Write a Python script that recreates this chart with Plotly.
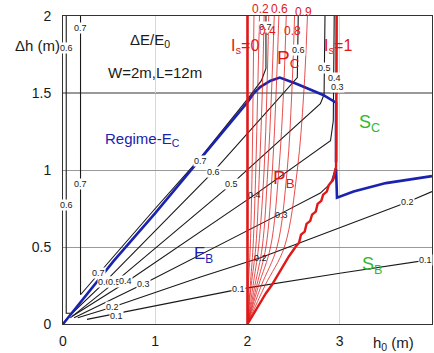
import plotly.graph_objects as go

FONT = "Arial, Liberation Sans, sans-serif"

# ---- Energy-loss contour lines  dE/E0 (black) ----
e01_x = [0.26, 0.58, 1.49, 1.9, 3.0, 3.93, 4.0]
e01_y = [0.03, 0.068, 0.177, 0.225, 0.33, 0.415, 0.42]
e02_x = [0.16, 0.54, 1.49, 2.14, 3.73, 4.0]
e02_y = [0.04, 0.11, 0.305, 0.43, 0.79, 0.86]
e03_x = [0.12, 0.87, 2.37, 2.79, 2.93, 2.965, 2.97]
e03_y = [0.04, 0.26, 0.72, 0.85, 0.93, 1.05, 2.0]
e04_x = [0.10, 0.68, 2.08, 2.90, 2.93, 2.94]
e04_y = [0.05, 0.27, 0.84, 1.19, 1.32, 2.0]
e05_x = [0.08, 0.56, 1.83, 2.79, 2.83, 2.84]
e05_y = [0.04, 0.27, 0.91, 1.43, 1.49, 2.0]
e06_x = [0.035, 0.035, 0.10, 0.45, 1.63, 2.25, 2.54, 2.55]
e06_y = [2.0, 0.07, 0.07, 0.27, 0.99, 1.41, 1.60, 2.0]
e07_x = [0.19, 0.19, 0.55, 1.0, 1.49, 2.0, 2.15, 2.2, 2.2]
e07_y = [2.0, 0.19, 0.44, 0.75, 1.08, 1.46, 1.58, 1.66, 2.0]

# ---- Regime boundary (blue) ----
ec_x = [0.0, 0.55, 1.0, 1.5, 2.0, 2.07, 2.14, 2.25, 2.35, 2.53, 2.82, 2.96, 2.96]
ec_y = [0.0, 0.41, 0.72, 1.08, 1.44, 1.50, 1.54, 1.58, 1.60, 1.56, 1.487, 1.437, 1.05]
sc_x = [2.92, 2.96, 2.97, 3.15, 3.5, 4.0]
sc_y = [0.93, 1.01, 0.82, 0.86, 0.915, 0.96]

# ---- Submergence lines Is (red) ----
is_y = [0.0, 0.25, 0.5, 1.0, 1.5, 2.0]
is01_x = [2.0, 2.01, 2.03, 2.05, 2.06, 2.07]
is02_x = [2.0, 2.03, 2.06, 2.09, 2.11, 2.13]
is03_x = [2.0, 2.04, 2.09, 2.13, 2.16, 2.18]
is04_x = [2.0, 2.06, 2.12, 2.18, 2.21, 2.23]
is05_x = [2.0, 2.08, 2.16, 2.22, 2.26, 2.29]
is06_x = [2.0, 2.10, 2.20, 2.27, 2.31, 2.34]
is07_x = [2.0, 2.12, 2.25, 2.34, 2.39, 2.42]
is08_x = [2.0, 2.15, 2.32, 2.43, 2.48, 2.51]
is09_x = [2.0, 2.19, 2.40, 2.54, 2.61, 2.65]
is0_x = [2.0, 2.0]
is0_y = [0.0, 2.0]
is1_x = [2.0, 2.1, 2.2, 2.26, 2.35, 2.45, 2.52, 2.56, 2.58, 2.62, 2.64, 2.68, 2.70, 2.74,
         2.76, 2.80, 2.82, 2.86, 2.88, 2.93, 2.96, 2.965]
is1_y = [0.0, 0.10, 0.20, 0.25, 0.34, 0.44, 0.50, 0.53, 0.58, 0.60, 0.65, 0.67, 0.71, 0.73,
         0.78, 0.80, 0.84, 0.86, 0.90, 0.94, 1.02, 2.0]

# ---- labels ----
blk_lbl_t = ["0.7", "0.6", "0.5", "0.4", "0.3", "0.2", "0.1",
             "0.7", "0.6", "0.5", "0.1", "0.2", "0.1",
             "0.7", "0.6", "0.5", "0.4", "0.3",
             "0.7", "0.6", "0.7", "0.6"]
blk_lbl_x = [0.38, 0.45, 0.56, 0.68, 0.87, 0.54, 0.58,
             1.49, 1.63, 1.83, 1.90, 3.73, 3.93,
             2.19, 2.55, 2.84, 2.94, 2.98,
             0.19, 0.04, 0.19, 0.04]
blk_lbl_y = [0.33, 0.27, 0.27, 0.28, 0.26, 0.11, 0.05,
             1.06, 0.99, 0.91, 0.23, 0.79, 0.415,
             1.93, 1.78, 1.66, 1.60, 1.54,
             1.92, 1.79, 0.91, 0.77]
blk_nobg_t = ["0.4", "0.3", "0.2"]
blk_nobg_x = [2.08, 2.37, 2.14]
blk_nobg_y = [0.84, 0.71, 0.43]
red_top_t = ["0.2", "0.6", "0.9"]
red_top_x = [2.14, 2.35, 2.61]
red_top_ypaper = [1.023, 1.023, 1.013]
red_lbl_t = ["0.4", "0.8"]
red_lbl_x = [2.22, 2.49]
red_lbl_y = [1.90, 1.90]

BLACK = "#1a1a1a"
BLUE = "#1a22b0"
RED = "#e01818"
GREEN = "#2eb82e"

fig = go.Figure()

for xs, ys in [(e01_x, e01_y), (e02_x, e02_y), (e03_x, e03_y), (e04_x, e04_y),
               (e05_x, e05_y), (e06_x, e06_y), (e07_x, e07_y)]:
    fig.add_trace(go.Scatter(x=xs, y=ys, mode="lines",
                             line=dict(color=BLACK, width=1.1), hoverinfo="skip"))

fig.add_trace(go.Scatter(x=ec_x, y=ec_y, mode="lines", line=dict(color=BLUE, width=2.6)))
fig.add_trace(go.Scatter(x=sc_x, y=sc_y, mode="lines", line=dict(color=BLUE, width=2.6)))

for xs in [is01_x, is02_x, is03_x, is04_x, is05_x, is06_x, is07_x, is08_x, is09_x]:
    fig.add_trace(go.Scatter(x=xs, y=is_y, mode="lines", line=dict(color=RED, width=0.9, shape="spline"),
                             opacity=0.85))
fig.add_trace(go.Scatter(x=is0_x, y=is0_y, mode="lines", line=dict(color=RED, width=2.6)))
fig.add_trace(go.Scatter(x=is1_x, y=is1_y, mode="lines", line=dict(color=RED, width=2.4)))

ann = []
for t, x, y in zip(blk_lbl_t, blk_lbl_x, blk_lbl_y):
    ann.append(dict(x=x, y=y, text=t, showarrow=False, bgcolor="white", borderpad=0,
                    font=dict(size=9, color=BLACK, family=FONT)))
for t, x, y in zip(blk_nobg_t, blk_nobg_x, blk_nobg_y):
    ann.append(dict(x=x, y=y, text=t, showarrow=False,
                    font=dict(size=9, color=BLACK, family=FONT)))
for t, x, y in zip(red_top_t, red_top_x, red_top_ypaper):
    ann.append(dict(x=x, y=y, yref="paper", yanchor="middle", text=t, showarrow=False,
                    font=dict(size=12, color=RED, family=FONT)))
for t, x, y in zip(red_lbl_t, red_lbl_x, red_lbl_y):
    ann.append(dict(x=x, y=y, text=t, showarrow=False,
                    font=dict(size=12, color=RED, family=FONT)))

ann += [
    dict(x=1.97, y=1.80, text="I<sub>s</sub>=0", showarrow=False, font=dict(size=16, color=RED, family=FONT)),
    dict(x=2.98, y=1.80, text="I<sub>s</sub>=1", showarrow=False, font=dict(size=16, color=RED, family=FONT)),
    dict(x=2.44, y=1.72, text="P<sub>C</sub>", showarrow=False, font=dict(size=19, color=RED, family=FONT)),
    dict(x=2.40, y=0.94, text="P<sub>B</sub>", showarrow=False, font=dict(size=19, color=RED, family=FONT)),
    dict(x=3.32, y=1.30, text="S<sub>C</sub>", showarrow=False, font=dict(size=18, color=GREEN, family=FONT)),
    dict(x=3.35, y=0.38, text="S<sub>B</sub>", showarrow=False, font=dict(size=18, color=GREEN, family=FONT)),
    dict(x=1.52, y=0.45, text="E<sub>B</sub>", showarrow=False, font=dict(size=17, color=BLUE, family=FONT)),
    dict(x=0.86, y=1.20, text="Regime-E<sub>C</sub>", showarrow=False, font=dict(size=15, color=BLUE, family=FONT)),
    dict(x=0.94, y=1.84, text="ΔE/E<sub>0</sub>", showarrow=False, font=dict(size=15, color=BLACK, family=FONT)),
    dict(x=1.00, y=1.63, text="W=2m,L=12m", showarrow=False, font=dict(size=15, color=BLACK, family=FONT)),
    dict(xref="paper", yref="y", x=-0.003, y=1.81, xanchor="right", text="Δh (m)", showarrow=False,
         font=dict(size=15, color=BLACK, family=FONT)),
    dict(xref="x", yref="paper", x=3.58, y=-0.063, yanchor="middle", text="h<sub>0</sub> (m)", showarrow=False,
         font=dict(size=15, color=BLACK, family=FONT)),
]

fig.update_layout(
    width=434, height=353,
    margin=dict(l=63, r=2, t=16, b=29),
    paper_bgcolor="white", plot_bgcolor="white",
    showlegend=False,
    annotations=ann,
    shapes=[dict(type="line", xref="paper", yref="y", x0=0, x1=1, y0=1.5, y1=1.5,
                 line=dict(color="#333", width=1), layer="below")],
    xaxis=dict(range=[0, 4], tickvals=[0, 1, 2, 3, 4], showgrid=True, gridcolor="#d8d8d8",
               zeroline=False, showline=True, linecolor="#333", linewidth=1, mirror=True,
               ticks="", ticklabelstandoff=4, tickfont=dict(size=14, family=FONT, color=BLACK)),
    yaxis=dict(range=[0, 2], tickvals=[0, 0.5, 1, 1.5, 2], ticktext=["0", "0.5", "1", "1.5", "2"],
               showgrid=True, gridcolor="#999", zeroline=False, showline=True, linecolor="#333",
               linewidth=1, mirror=True, ticks="", ticklabelstandoff=8,
               tickfont=dict(size=14, family=FONT, color=BLACK)),
)

fig.write_html("out.html")
